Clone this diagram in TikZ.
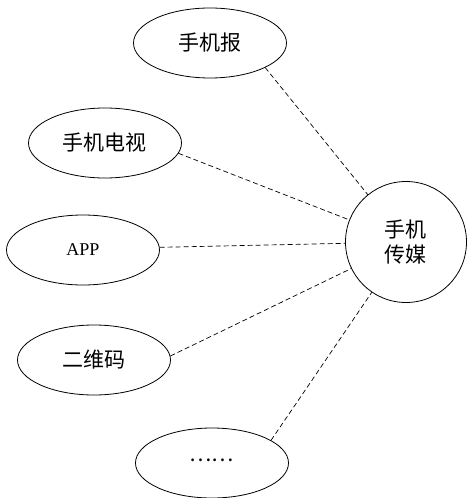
\documentclass[tikz,border=0pt]{standalone}
\usepackage{fontspec}
\setmainfont{Liberation Serif}
\newfontfamily\cjk{Noto Sans CJK SC}
\usepackage{tikz}
\usetikzlibrary{shapes.geometric,positioning}

\begin{document}
\begin{tikzpicture}[on grid,line width=0.8pt,
    item/.style={ellipse,draw,minimum width=153pt,minimum height=70pt,inner sep=0pt,font=\fontsize{21pt}{24pt}\selectfont\cjk},
    hub/.style={circle,draw,minimum size=121pt,inner sep=0pt,align=center,font=\fontsize{21pt}{25pt}\selectfont\cjk}]
        \useasboundingbox (-406pt,-256pt) rectangle (63pt,242pt);
        \node[hub] (media) {手机\\传媒};
        \node[item] (bao)  [above left=199pt and 196pt of media] {手机报};
        \node[item] (tv)   [above left=99pt and 301pt of media] {手机电视};
        \node[item,font=\fontsize{18pt}{22pt}\selectfont] (app) [below left=8pt and 323pt of media] {APP};
        \node[item] (qr)   [below left=118pt and 312pt of media] {二维码};
        \node[item] (more) [below left=221pt and 194pt of media] {\raisebox{0.3em}{……}};
        \path[dash pattern=on 5pt off 3pt,line width=0.7pt]
        (bao.-24) edge (media)
        (tv.-8)   edge (media)
        (app.2)   edge (media)
        (qr.3)    edge (media)
        (more.21) edge (media);
    \end{tikzpicture}
\end{document}
